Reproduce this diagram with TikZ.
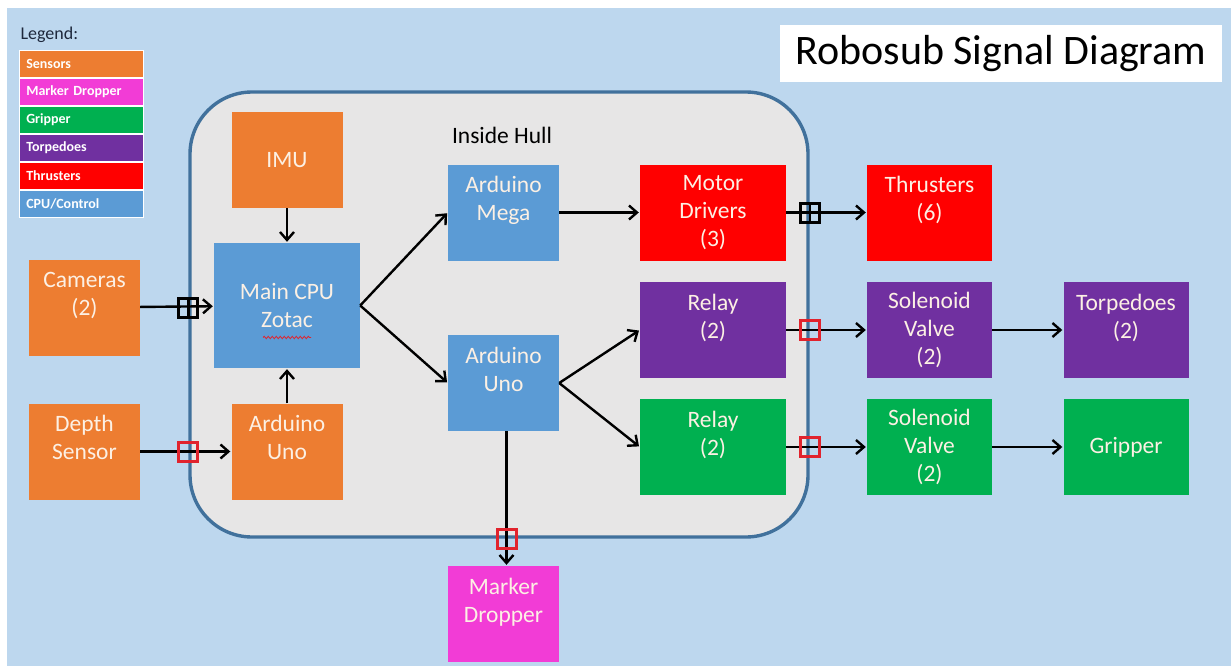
\documentclass[tikz,border=0pt]{standalone}
\usepackage{fontspec}
\setmainfont{Carlito}
\usetikzlibrary{positioning, arrows.meta, calc, decorations.pathmorphing}

\definecolor{bgblue}{RGB}{189,215,238}
\definecolor{hullfill}{RGB}{231,230,230}
\definecolor{hullline}{RGB}{65,113,156}
\definecolor{sensor}{RGB}{237,125,49}
\definecolor{cpublue}{RGB}{91,155,213}
\definecolor{thrust}{RGB}{255,0,0}
\definecolor{torp}{RGB}{112,48,160}
\definecolor{grip}{RGB}{0,176,80}
\definecolor{marker}{RGB}{242,60,214}
\definecolor{txt}{RGB}{252,240,228}
\definecolor{plugred}{RGB}{225,35,45}
\definecolor{legtext}{RGB}{30,40,60}

\tikzset{
  blk/.style={rectangle, inner sep=0pt, align=center, text=txt, font=\fontsize{23.5}{28}\selectfont, minimum height=96pt},
  small/.style={blk, minimum width=111pt},
  mid/.style={blk, minimum width=125pt},
  wide/.style={blk, minimum width=146pt},
  arr/.style={line width=2.4pt, -{Straight Barb[length=8pt,width=14pt]}, shorten >=1pt},
  plugk/.style={draw=black, line width=3pt, minimum size=19pt, inner sep=0pt,
    path picture={\draw[line width=2.4pt] (path picture bounding box.north) -- (path picture bounding box.south);}},
  plugr/.style={draw=plugred, line width=3pt, minimum size=19pt, inner sep=0pt},
  legbox/.style={draw=white, line width=0.6pt, minimum width=123pt, minimum height=27.3pt, text width=110pt,
    align=left, inner xsep=7pt, inner ysep=0pt, text=white, font=\fontsize{14}{16}\selectfont\bfseries, anchor=north west},
}

\begin{document}
\begin{tikzpicture}[x=1pt, y=-1pt]
  \useasboundingbox (0,0) rectangle (1231,666);
  % page and background
  \fill[white] (0,0) rectangle (1231,666);
  \fill[bgblue] (7,8) rectangle (1231,666);

  % title
  \node[fill=white, minimum width=442pt, minimum height=57pt, font=\fontsize{42}{50}\selectfont] (title) at (1001,53.5) {Robosub Signal Diagram};

  % legend
  \node[anchor=west, font=\fontsize{18}{20}\selectfont, text=legtext] (legend) at (17,35) {Legend:};
  \node[legbox, fill=sensor] (lsens) at (19,50) {Sensors};
  \node[legbox, fill=marker, below=0pt of lsens] (lmark) {Marker Dropper};
  \node[legbox, fill=grip, below=0pt of lmark] (lgrip) {Gripper};
  \node[legbox, fill=torp, below=0pt of lgrip] (ltorp) {Torpedoes};
  \node[legbox, fill=thrust, below=0pt of ltorp] (lthr) {Thrusters};
  \node[legbox, fill=cpublue, below=0pt of lthr] (lcpu) {CPU/Control};

  % hull
  \node[draw=hullline, fill=hullfill, line width=3.4pt, rounded corners=62pt, minimum width=618pt, minimum height=445pt] (hull) at (499,314.5) {};
  \node[font=\fontsize{23.5}{26}\selectfont] (inside) at (502,135) {Inside Hull};

  % sensors
  \node[small, fill=sensor] (cam) at (84.5,307.5) {Cameras\\(2)\\~};
  \node[small, fill=sensor] (depth) at (84.5,451.5) {Depth\\Sensor\\~};
  \node[small, fill=sensor] (imu) at (287,160) {IMU};
  \node[small, fill=sensor] (unol) at (287,451.5) {Arduino\\Uno\\~};

  % control
  \node[wide, fill=cpublue, minimum height=125pt] (cpu) at (287,305.5) {Main CPU\\Zotac};
  \draw[plugred, line width=0.8pt, decorate, decoration={snake, amplitude=1.2pt, segment length=4pt}]
    ($(cpu.center)+(-24,32)$) -- ($(cpu.center)+(24,32)$);
  \node[small, fill=cpublue] (mega) at (503.5,212.5) {Arduino\\Mega\\~};
  \node[small, fill=cpublue] (unom) at (503.5,383) {Arduino\\Uno\\~};

  % actuators
  \node[small, fill=marker] (mark) at (503.5,614) {Marker\\Dropper\\~};
  \node[wide, fill=thrust] (motor) at (713,212.5) {Motor\\Drivers\\(3)};
  \node[wide, fill=torp] (relayp) at (713,330) {Relay\\(2)\\~};
  \node[wide, fill=grip] (relayg) at (713,447) {Relay\\(2)\\~};
  \node[mid, fill=thrust] (thr) at (929.5,212.5) {Thrusters\\(6)\\~};
  \node[mid, fill=torp] (solp) at (929.5,330) {Solenoid\\Valve\\(2)};
  \node[mid, fill=grip] (solg) at (929.5,447) {Solenoid\\Valve\\(2)};
  \node[mid, fill=torp] (torpedo) at (1126,330) {Torpedoes\\(2)\\~};
  \node[mid, fill=grip] (gripper) at (1126,447) {Gripper};

  % signals
  \draw[arr] (cam) -- (cpu);
  \draw[arr] (depth) -- (unol);
  \draw[arr] (imu) -- (cpu);
  \draw[arr] (unol) -- (cpu);
  \draw[arr] (cpu.east) -- (mega.west);
  \draw[arr] (cpu.east) -- (unom.west);
  \draw[arr] (mega) -- (motor);
  \draw[arr] (unom.east) -- (relayp.west);
  \draw[arr] (unom.east) -- (relayg.west);
  \draw[arr] ([xshift=3pt]unom.south) -- ([xshift=3pt]mark.north);
  \draw[arr] (motor) -- (thr);
  \draw[arr] (relayp) -- (solp);
  \draw[arr] (relayg) -- (solg);
  \draw[arr] (solp) -- (torpedo);
  \draw[arr] (solg) -- (gripper);

  % hull penetrators
  \node[plugk] (pcam) at (hull.west |- cam.east) {};
  \node[plugr] (pdepth) at (hull.west |- depth.east) {};
  \node[plugk] (pmotor) at (hull.east |- motor.east) {};
  \node[plugr] (prelayp) at (hull.east |- relayp.east) {};
  \node[plugr] (prelayg) at (hull.east |- relayg.east) {};
  \node[plugr] (pmark) at ([xshift=3pt]unom.south |- hull.south) {};
\end{tikzpicture}
\end{document}
